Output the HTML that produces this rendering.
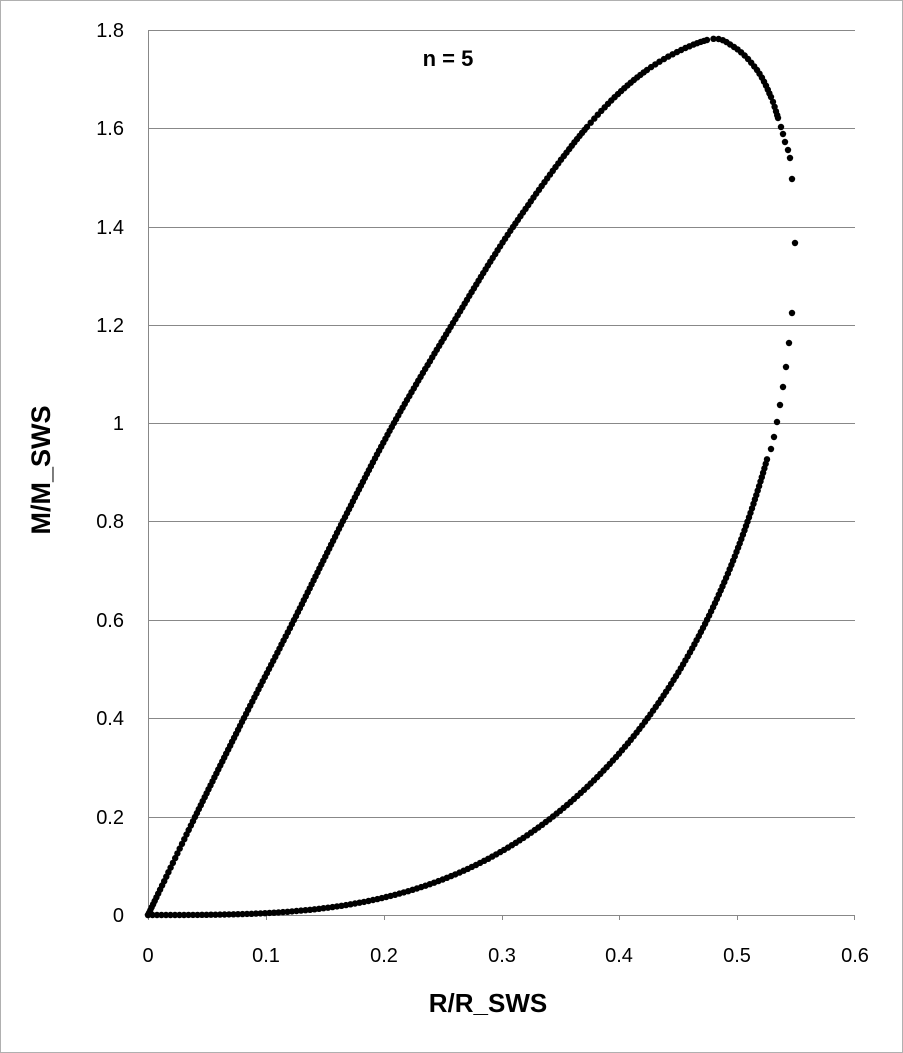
<!DOCTYPE html>
<html><head><meta charset="utf-8"><style>
body{margin:0;background:#fff;}
svg{display:block;font-family:"Liberation Sans",sans-serif;}
</style></head><body>
<svg id="s" width="903" height="1053" viewBox="0 0 903 1053">
<rect x="0.5" y="0.5" width="902" height="1052" fill="#fff" stroke="#b0b0b0"/>
<g stroke="#888" stroke-width="1">
<line x1="148" y1="30.5" x2="855" y2="30.5"/>
<line x1="148" y1="128.5" x2="855" y2="128.5"/>
<line x1="148" y1="227.5" x2="855" y2="227.5"/>
<line x1="148" y1="325.5" x2="855" y2="325.5"/>
<line x1="148" y1="423.5" x2="855" y2="423.5"/>
<line x1="148" y1="521.5" x2="855" y2="521.5"/>
<line x1="148" y1="620.5" x2="855" y2="620.5"/>
<line x1="148" y1="718.5" x2="855" y2="718.5"/>
<line x1="148" y1="817.5" x2="855" y2="817.5"/>
<line x1="148" y1="915.5" x2="855" y2="915.5"/>
<line x1="148.5" y1="30" x2="148.5" y2="920"/>
<line x1="266.5" y1="915" x2="266.5" y2="920"/>
<line x1="384.5" y1="915" x2="384.5" y2="920"/>
<line x1="502.5" y1="915" x2="502.5" y2="920"/>
<line x1="619.5" y1="915" x2="619.5" y2="920"/>
<line x1="737.5" y1="915" x2="737.5" y2="920"/>
<line x1="854.5" y1="915" x2="854.5" y2="920"/>
</g>
<g font-size="20" text-anchor="end" fill="#000">
<text x="124" y="37">1.8</text><text x="124" y="135">1.6</text><text x="124" y="234">1.4</text>
<text x="124" y="332">1.2</text><text x="124" y="430">1</text><text x="124" y="528">0.8</text>
<text x="124" y="627">0.6</text><text x="124" y="725">0.4</text><text x="124" y="824">0.2</text>
<text x="124" y="922">0</text>
</g>
<g font-size="20" text-anchor="middle" fill="#000">
<text x="148" y="962">0</text><text x="266" y="962">0.1</text><text x="384" y="962">0.2</text>
<text x="502" y="962">0.3</text><text x="619" y="962">0.4</text><text x="737" y="962">0.5</text>
<text x="855" y="962">0.6</text>
</g>
<text x="488" y="1012" font-size="26" font-weight="bold" text-anchor="middle">R/R_SWS</text>
<text transform="translate(50,470) rotate(-90)" font-size="27" font-weight="bold" text-anchor="middle">M/M_SWS</text>
<text x="448" y="66" font-size="22" font-weight="bold" text-anchor="middle">n = 5</text>
<g id="d" fill="#000"></g>
</svg>
<script>
function cr(pts,spacing,out){
 for(let i=0;i<pts.length-1;i++){
  const p0=pts[Math.max(0,i-1)],p1=pts[i],p2=pts[i+1],p3=pts[Math.min(pts.length-1,i+2)];
  const len=Math.hypot(p2[0]-p1[0],p2[1]-p1[1]);
  const n=Math.max(1,Math.round(len/spacing));
  for(let k=0;k<n;k++){const t=k/n,t2=t*t,t3=t2*t;
   const f=j=>0.5*((2*p1[j])+(-p0[j]+p2[j])*t+(2*p0[j]-5*p1[j]+4*p2[j]-p3[j])*t2+(-p0[j]+3*p1[j]-3*p2[j]+p3[j])*t3);
   out.push([f(0),f(1)]);}
 }
 out.push(pts[pts.length-1]);
}
const up=[[148,915],[195,817],[244,718],[294,620],[343,521],[394,423],[453,323],[513,227],[587,127],[647,70],[707,40],[734,47],[757,70],[771,97],[778,118]];
const dots=[];cr(up,4.5,dots);
[[781,127],[783,134],[785,142],[788,150],[790,158],[792,179],[795,243],[792,313],[789,343],[786,367],[783,387],[780,405],[777,422],[774,437],[771,449]].forEach(p=>dots.push(p));
function ev(r){return 65*Math.pow(r/356,3.2)+74*Math.pow(r/619,13);}
let acc=0,px=148+619,py=915-ev(619);dots.push([px,py]);
for(let r=619;r>=0;r-=0.1){const x=148+r,y=915-ev(r);acc+=Math.hypot(x-px,y-py);px=x;py=y;
 if(acc>=4.5){dots.push([x,y]);acc=0;}}
dots.push([148,915]);
const g=document.getElementById('d');let h='';
dots.forEach(p=>{h+='<circle cx="'+p[0].toFixed(1)+'" cy="'+p[1].toFixed(1)+'" r="3.2"/>';});
g.innerHTML=h;
</script>
</body></html>
